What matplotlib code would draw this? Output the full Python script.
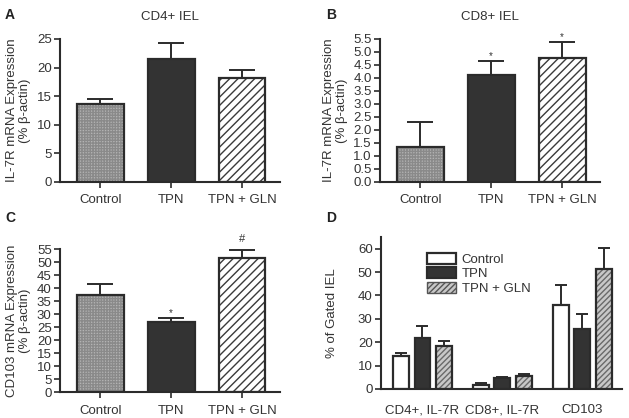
import matplotlib
matplotlib.use("Agg")
import matplotlib.pyplot as plt
import numpy as np
from matplotlib.patches import Patch

plt.rcParams['font.family'] = ['Liberation Sans', 'DejaVu Sans']
plt.rcParams['hatch.linewidth'] = 1.0

groups = ["Control", "TPN", "TPN + GLN"]

a_vals = [13.7, 21.5, 18.1]
a_err = [0.8, 2.8, 1.4]
b_vals = [1.35, 4.1, 4.75]
b_err = [0.95, 0.55, 0.65]
c_vals = [37.5, 27.0, 51.5]
c_err = [4.0, 1.6, 3.3]
b_marks = ["", "*", "*"]
c_marks = ["", "*", "#"]

d_cats = ["CD4+, IL-7R", "CD8+, IL-7R", "CD103"]
d_control = [14.0, 1.5, 36.0]
d_control_err = [1.3, 1.2, 8.5]
d_tpn = [22.0, 4.5, 25.5]
d_tpn_err = [5.0, 0.8, 6.5]
d_gln = [18.5, 5.5, 51.5]
d_gln_err = [2.0, 0.7, 9.0]

DARK = '#2b2b2b'
TXT = '#333333'
FS = 9.5

fig = plt.figure(figsize=(6.29, 4.18), dpi=100)

def style_axes(ax):
    for s in ['top', 'right']:
        ax.spines[s].set_visible(False)
    for s in ['left', 'bottom']:
        ax.spines[s].set_linewidth(1.5)
        ax.spines[s].set_color(DARK)
    ax.tick_params(direction='out', length=4, width=1.2, color=DARK,
                   labelsize=FS, labelcolor=TXT, pad=2)

def draw_bar(ax, x, h, w, kind):
    if kind == 'dots':
        ax.bar(x, h, w, color='#b4b4b4', edgecolor='#8a8a8a', hatch='++++++', linewidth=0, zorder=2)
    elif kind == 'hatch':
        ax.bar(x, h, w, color='white', edgecolor='#3a3a3a', hatch='////', linewidth=0, zorder=2)
    elif kind == 'grayhatch':
        ax.bar(x, h, w, color='#c8c8c8', edgecolor='#6a6a6a', hatch='//////', linewidth=0, zorder=2)
    elif kind == 'black':
        ax.bar(x, h, w, color='#333333', linewidth=0, zorder=2)
    elif kind == 'white':
        ax.bar(x, h, w, color='white', linewidth=0, zorder=2)
    ax.bar(x, h, w, facecolor='none', edgecolor=DARK, linewidth=1.6, zorder=3)

def draw_err(ax, x, h, e, cap):
    ax.errorbar(x, h, yerr=[[0], [e]], fmt='none', ecolor=DARK, elinewidth=1.4,
                capsize=cap, capthick=1.4, zorder=1)

kinds3 = ['dots', 'black', 'hatch']
xs = np.arange(3)

def simple_panel(rect, vals, errs, ylim, yticks, ytl, ylabel, title, marks=None):
    ax = fig.add_axes(rect)
    for i in range(3):
        draw_err(ax, xs[i], vals[i], errs[i], 9.5)
        draw_bar(ax, xs[i], vals[i], 0.66, kinds3[i])
    ax.set_xlim(-0.57, 2.535)
    ax.set_ylim(*ylim)
    ax.set_yticks(yticks)
    ax.set_yticklabels(ytl)
    ax.set_xticks(xs)
    ax.set_xticklabels(groups)
    style_axes(ax)
    ax.tick_params(axis='x', pad=5)
    ax.set_ylabel(ylabel, fontsize=FS, color=TXT, linespacing=1.1, labelpad=4)
    if title:
        ax.set_title(title, fontsize=FS, color=TXT, pad=14)
    if marks:
        for i, m in enumerate(marks):
            if m:
                top = vals[i] + errs[i]
                rng = ylim[1] - ylim[0]
                if m == '*':
                    ax.text(xs[i], top + rng * 0.035, m, ha='center', va='center',
                            fontsize=7, color=TXT, clip_on=False)
                else:
                    ax.text(xs[i], top + rng * 0.04, m, ha='center', va='bottom',
                            fontsize=8, color=TXT, clip_on=False)
    return ax

axA = simple_panel([0.0954, 0.5646, 0.3496, 0.3421], a_vals, a_err, (0, 25),
                   [0, 5, 10, 15, 20, 25], ['0', '5', '10', '15', '20', '25'],
                   "IL-7R mRNA Expression\n(% β-actin)", "CD4+ IEL")
fig.text(0.008, 0.955, "A", fontsize=10, fontweight='bold', color='#222222')

bt = np.arange(0, 5.51, 0.5)
axB = simple_panel([0.604, 0.5646, 0.350, 0.3421], b_vals, b_err, (0, 5.5),
                   bt, [f"{t:.1f}" for t in bt],
                   "IL-7R mRNA Expression\n(% β-actin)", "CD8+ IEL", b_marks)
fig.text(0.518, 0.955, "B", fontsize=10, fontweight='bold', color='#222222')

ct = np.arange(0, 56, 5)
axC = simple_panel([0.0954, 0.0622, 0.3496, 0.3421], c_vals, c_err, (0, 55),
                   ct, [str(t) for t in ct],
                   "CD103 mRNA Expression\n(% β-actin)", None, c_marks)
fig.text(0.008, 0.47, "C", fontsize=10, fontweight='bold', color='#222222')

# Panel D
axD = fig.add_axes([0.6057, 0.0694, 0.3833, 0.3636])
dx = np.arange(3)
off = 0.27
w = 0.2
series = [(d_control, d_control_err, 'white'),
          (d_tpn, d_tpn_err, 'black'),
          (d_gln, d_gln_err, 'grayhatch')]
for k, (vals, errs, kind) in enumerate(series):
    for i in range(3):
        x = dx[i] + (k - 1) * off
        draw_err(axD, x, vals[i], errs[i], 4)
        draw_bar(axD, x, vals[i], w, kind)
axD.set_xlim(-0.52, 2.5)
axD.set_ylim(0, 65)
axD.set_yticks([0, 10, 20, 30, 40, 50, 60])
axD.set_xticks(dx)
axD.set_xticklabels(d_cats)
style_axes(axD)
axD.tick_params(axis='x', length=0, pad=11)
axD.set_ylabel("% of Gated IEL", fontsize=FS, color=TXT, labelpad=14)
fig.text(0.518, 0.47, "D", fontsize=10, fontweight='bold', color='#222222')

handles = [Patch(facecolor='white', edgecolor=DARK, linewidth=1.6),
           Patch(facecolor='#333333', edgecolor=DARK, linewidth=1.6),
           Patch(facecolor='#c8c8c8', edgecolor='#555555', hatch='//////', linewidth=1.0)]
axD.legend(handles, ['Control', 'TPN', 'TPN + GLN'], loc='upper left',
           bbox_to_anchor=(0.17, 0.93), frameon=False, fontsize=FS,
           handlelength=2.2, handleheight=0.9, handletextpad=0.4,
           labelspacing=0.1, borderaxespad=0, labelcolor=TXT)

fig.savefig("out.png", dpi=100)
